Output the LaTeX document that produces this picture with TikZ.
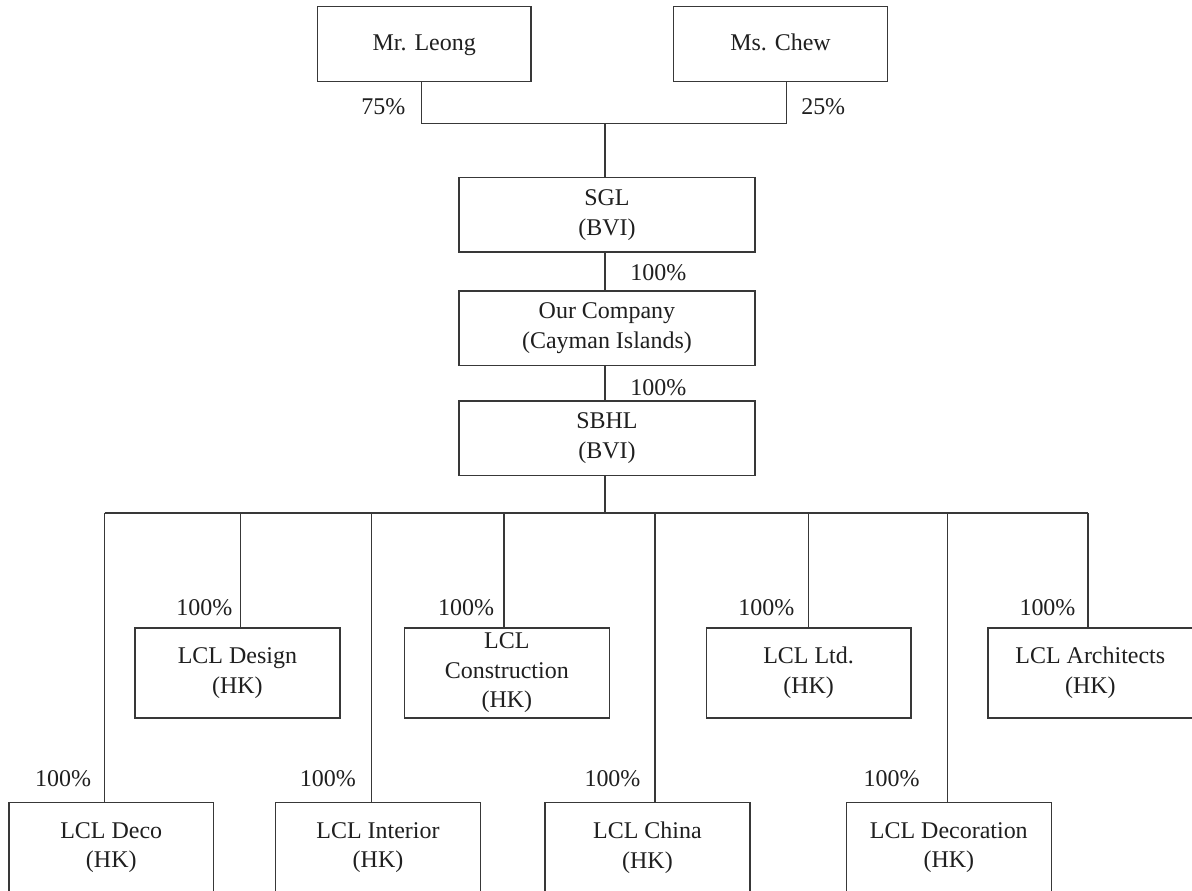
\documentclass[tikz,border=0pt]{standalone}
\usepackage{fontspec}
\setmainfont{Liberation Serif}
\begin{document}
\begin{tikzpicture}[x=0.5pt,y=-0.5pt,
  line width=0.7pt,
  every path/.style={draw=black!78},
  orgbox/.style={draw=black!78, line width=0.7pt, fill=white, inner sep=0pt, align=center,
    text=black!88, font=\fontsize{12pt}{14.75pt}\selectfont},
  topbox/.style={orgbox, minimum width=107pt, minimum height=37.5pt, text height=8pt, text depth=2pt},
  midbox/.style={orgbox, minimum width=148pt, minimum height=37.2pt},
  subbox/.style={orgbox, minimum width=102.5pt, minimum height=45pt},
  pct/.style={inner sep=0pt, text=black!88, font=\fontsize{12pt}{14.75pt}\selectfont}]
\useasboundingbox (0,0) rectangle (1192,890);
\fill[white] (0,0) rectangle (1192,890);

% top level
\node[topbox] (leong) at (424,43.5) {Mr. Leong};
\node[topbox] (chew) at (780.75,43.5) {Ms. Chew};
\node[pct] (p75) at (383,106) {75\%};
\node[pct] (p25) at (823.5,106) {25\%};

\node[midbox] (sgl) at (607,214.5) {SGL\\(BVI)};
\node[midbox] (ocomp) at (607,328) {Our Company\\(Cayman Islands)};
\node[midbox] (sbhl) at (607,438) {SBHL\\(BVI)};
\node[pct] (p1) at (658.5,272) {100\%};
\node[pct] (p2) at (658.5,387) {100\%};

\coordinate (jL) at (421,123);
\coordinate (jR) at (787,123);
\coordinate (jM) at (605,123);
\draw (leong.south -| jL) -- (jL) -- (jR) -- (chew.south -| jR);
\draw (jM) -- (sgl.north -| jM);
\draw (sgl.south -| jM) -- (ocomp.north -| jM);
\draw (ocomp.south -| jM) -- (sbhl.north -| jM);

% subsidiaries
\node[subbox] (design) at (237,673) {LCL Design\\(HK)};
\node[subbox] (constr) at (506.75,673) {LCL\\Construction\\(HK)};
\node[subbox] (ltd) at (808.85,673) {LCL Ltd.\\(HK)};
\node[subbox] (arch) at (1090.9,673) {LCL Architects\\(HK)};
\node[subbox] (deco) at (110.7,848) {LCL Deco\\(HK)};
\node[subbox] (interior) at (377.75,848) {LCL Interior\\(HK)};
\node[subbox] (china) at (647.5,848) {LCL China\\(HK)};
\node[subbox] (decoration) at (949.25,848) {LCL Decoration\\(HK)};

\node[pct] (pDesign) at (204,608) {100\%};
\node[pct] (pConstr) at (466,608) {100\%};
\node[pct] (pLtd) at (766.5,608) {100\%};
\node[pct] (pArch) at (1048,608) {100\%};
\node[pct] (pDeco) at (62.5,779) {100\%};
\node[pct] (pInterior) at (327.5,779) {100\%};
\node[pct] (pChina) at (612.5,779) {100\%};
\node[pct] (pDecoration) at (892,779) {100\%};

\coordinate (kDeco) at (104,513);
\coordinate (kDesign) at (240.3,513);
\coordinate (kInterior) at (371.2,513);
\coordinate (kConstr) at (504,513);
\coordinate (kChina) at (655,513);
\coordinate (kLtd) at (809,513);
\coordinate (kDecoration) at (948,513);
\coordinate (kArch) at (1088.7,513);

\draw (sbhl.south -| jM) -- (jM |- kDeco);
\draw (kDeco) -- (kArch);
\draw (kDeco) -- (kDeco |- deco.north);
\draw (kDesign) -- (kDesign |- design.north);
\draw (kInterior) -- (kInterior |- interior.north);
\draw (kConstr) -- (kConstr |- constr.north);
\draw (kChina) -- (kChina |- china.north);
\draw (kLtd) -- (kLtd |- ltd.north);
\draw (kDecoration) -- (kDecoration |- decoration.north);
\draw (kArch) -- (kArch |- arch.north);
\end{tikzpicture}
\end{document}
